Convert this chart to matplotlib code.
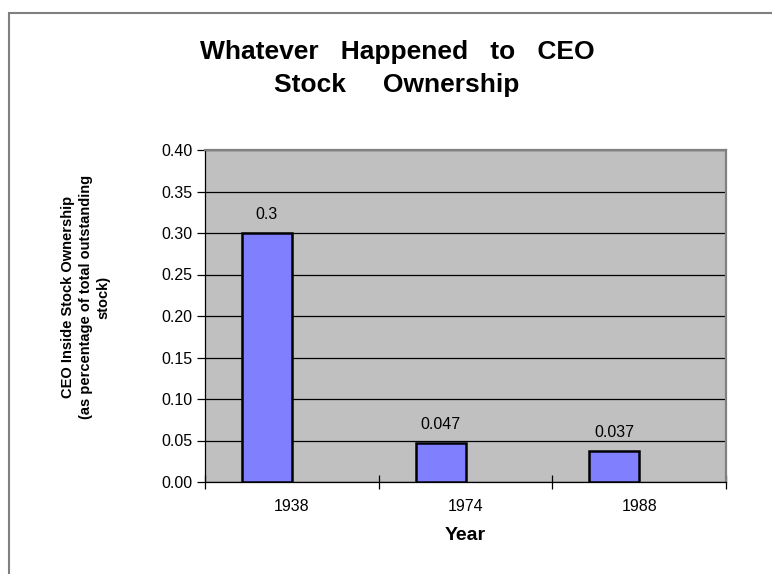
import matplotlib
matplotlib.use("Agg")
import matplotlib.pyplot as plt
from matplotlib.patches import Rectangle
import numpy as np

years = ["1938", "1974", "1988"]
ownership = [0.3, 0.047, 0.037]
value_labels = ["0.3", "0.047", "0.037"]
yticks = [0.00, 0.05, 0.10, 0.15, 0.20, 0.25, 0.30, 0.35, 0.40]

plt.rcParams['font.family'] = ['Liberation Sans', 'DejaVu Sans']

W, H = 772, 574
fig = plt.figure(figsize=(W / 100, H / 100), dpi=100)
fig.patch.set_facecolor('white')

# outer chart border (extends beyond right/bottom edge)
fig.patches.append(Rectangle((9 / W, -0.1), 1.2, 1 - 13 / H + 0.1, transform=fig.transFigure,
                             fill=False, edgecolor='#808080', linewidth=1.5, zorder=0))

ax = fig.add_axes([205 / W, 1 - 482 / H, (726 - 205) / W, (482 - 150) / H])
ax.set_facecolor('#C0C0C0')

x = np.arange(len(years))
bw = 0.286
ax.bar(x - bw / 2, ownership, width=bw, color='#8080FF', edgecolor='black', linewidth=1.8, zorder=3)
for xi, v, lab in zip(x, ownership, value_labels):
    ax.annotate(lab, (xi - bw / 2, v), xytext=(0, 8), textcoords='offset points',
                ha='center', va='bottom', fontsize=11.5)

ax.set_xlim(-0.5, len(years) - 0.5)
ax.set_ylim(0, 0.40)
ax.set_yticks(yticks)
ax.set_yticklabels([f"{t:.2f}" for t in yticks], fontsize=11.5)
ax.yaxis.grid(True, color='black', linewidth=0.9, zorder=1)
ax.set_axisbelow(True)
ax.tick_params(axis='y', direction='out', length=6, width=0.9, pad=3)

ax.set_xticks(x)
ax.set_xticklabels(years, fontsize=11.5)
ax.tick_params(axis='x', which='major', length=0, pad=12)
ax.set_xticks(np.arange(len(years) + 1) - 0.5, minor=True)
ax.tick_params(axis='x', which='minor', direction='inout', length=10, width=0.9)

for s in ['top', 'right']:
    ax.spines[s].set_color('#808080')
    ax.spines[s].set_linewidth(1.6)
for s in ['left', 'bottom']:
    ax.spines[s].set_color('black')
    ax.spines[s].set_linewidth(0.9)

fig.text(397 / W, 1 - 92 / H, "Whatever   Happened   to   CEO\nStock     Ownership",
         ha='center', va='baseline', fontsize=19, fontweight='bold', linespacing=1.45,
         multialignment='center')

fig.text(86 / W, 1 - 297 / H,
         "CEO Inside Stock Ownership\n(as percentage of total outstanding\nstock)",
         rotation=90, ha='center', va='center', fontsize=10.5, fontweight='bold',
         multialignment='center', linespacing=1.35)

fig.text(465 / W, 1 - 536 / H, "Year", ha='center', va='center', fontsize=14,
         fontweight='bold')

fig.savefig("out.png", dpi=100)
